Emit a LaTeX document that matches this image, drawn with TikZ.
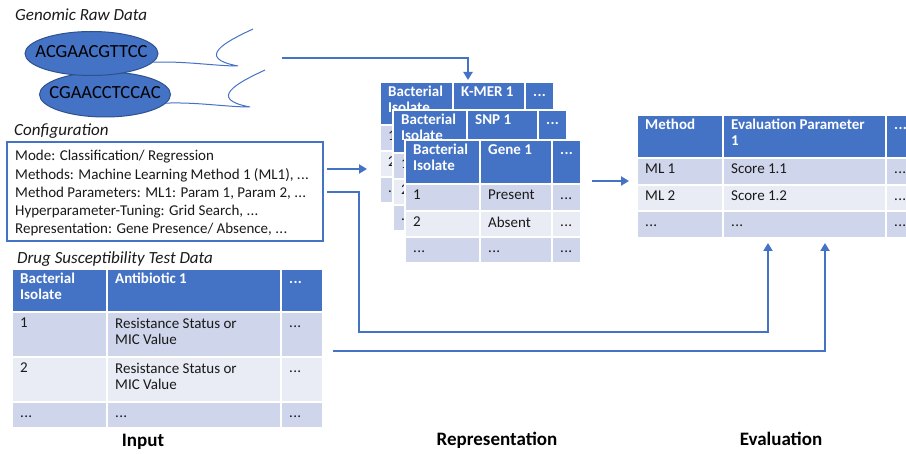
\documentclass[tikz,border=0pt]{standalone}
\usepackage{fontspec}
\setmainfont{Carlito}
\usetikzlibrary{arrows.meta,shapes.geometric}
\definecolor{hdr}{HTML}{4472C4}
\definecolor{rowa}{HTML}{CFD5EA}
\definecolor{rowb}{HTML}{E9EBF5}
\definecolor{edgeblue}{HTML}{2F528F}
\definecolor{txt}{HTML}{1A1A1A}
\newcommand\dd{.\kern0.3pt.\kern0.3pt.}
\newcommand\thin[1]{\makebox[0pt][c]{\smash{#1}}}
\newcommand\hcell[6]{%
  \path[fill=hdr,draw=white,line width=2pt] (#2,#3) rectangle (#4,#5);
  \node[htxt] (#1) at (#2+8,#3+4) {\vphantom{Bl}#6};}
\newcommand\rcell[7]{%
  \path[fill=#6,draw=white,line width=2pt] (#2,#3) rectangle (#4,#5);
  \node[rtxt] (#1) at (#2+8,#3+6) {\vphantom{R}#7};}
\tikzset{
  htxt/.style={anchor=north west,inner sep=0pt,align=left,text=white,
    font=\fontsize{15}{15.5}\selectfont\bfseries},
  rtxt/.style={anchor=north west,inner sep=0pt,align=left,text=txt,
    font=\fontsize{15}{15.5}\selectfont},
  ttl/.style={anchor=base west,inner sep=0pt,text=txt,font=\fontsize{17}{19}\selectfont\itshape},
  cfg/.style={anchor=base west,inner sep=0pt,text=txt,font=\fontsize{15}{18}\selectfont},
  stage/.style={anchor=base,inner sep=0pt,text=black,font=\fontsize{19}{22}\selectfont\bfseries},
  seq/.style={ellipse,draw=edgeblue,line width=1pt,fill=hdr,minimum width=133pt,
    minimum height=44pt,inner sep=0pt,text=black,font=\fontsize{18.5}{22}\selectfont},
  flow/.style={draw=hdr,line width=2.6pt,-{Triangle[length=8pt,width=9pt]}},
  wave/.style={draw=hdr,line width=1pt},
}
\begin{document}
\begin{tikzpicture}[x=1pt,y=-1pt]
\useasboundingbox (0,0) rectangle (906,454);
\fill[white] (0,0) rectangle (906,454);

% ---------- Genomic raw data ----------
\node[ttl] (tgen) at (15,21) {Genomic Raw Data};
\node[seq,minimum width=131pt,minimum height=45pt] (e2) at (105,94.5) {\thin{\raisebox{-0.5ex}{CGAACCTCCAC}}};
\node[seq] (e1) at (91.5,53.5) {\thin{\raisebox{-0.5ex}{ACGAACGTTCC}}};
\coordinate (w1tip) at (238,66);
\coordinate (w1end) at (253,29);
\coordinate (w2tip) at (250,107);
\coordinate (w2end) at (265,70);
\draw[wave] (e1.-8) .. controls (185,61) and (215,66) .. (w1tip)
  .. controls (195,58) and (225,42) .. (w1end);
\draw[wave] (e2.-8) .. controls (197,102) and (227,107) .. (w2tip)
  .. controls (207,99) and (237,83) .. (w2end);

% ---------- Configuration ----------
\node[ttl] (tcfg) at (14,136) {Configuration};
\draw[hdr,line width=1.3pt] (7,142) rectangle (323,241);
\node[cfg] (c1) at (15,161) {Mode: Classification/ Regression};
\node[cfg] (c2) at (15,179.25) {Methods: Machine Learning Method 1 (ML1), \dd};
\node[cfg] (c3) at (15,197.5) {Method Parameters: ML1: Param 1, Param 2, \dd};
\node[cfg] (c4) at (15,215.75) {Hyperparameter-Tuning: Grid Search, \dd};
\node[cfg] (c5) at (15,234) {Representation: Gene Presence/ Absence, \dd};

% ---------- Drug susceptibility test data ----------
\node[ttl] (tdst) at (17,264) {Drug Susceptibility Test Data};
\hcell{d00}{12}{269}{107}{312}{Bacterial\\Isolate}
\hcell{d01}{107}{269}{281}{312}{Antibiotic 1}
\hcell{d02}{281}{269}{323}{312}{\dd}
\rcell{d10}{12}{312}{107}{357}{rowa}{1}
\rcell{d11}{107}{312}{281}{357}{rowa}{Resistance Status or\\MIC Value}
\rcell{d12}{281}{312}{323}{357}{rowa}{\dd}
\rcell{d20}{12}{357}{107}{402}{rowb}{2}
\rcell{d21}{107}{357}{281}{402}{rowb}{Resistance Status or\\MIC Value}
\rcell{d22}{281}{357}{323}{402}{rowb}{\dd}
\rcell{d30}{12}{402}{107}{428}{rowa}{\dd}
\rcell{d31}{107}{402}{281}{428}{rowa}{\dd}
\rcell{d32}{281}{402}{323}{428}{rowa}{\dd}

% ---------- Representation: stacked tables ----------
% K-MER table
\hcell{k00}{380}{82}{453}{125}{Bacterial\\Isolate}
\hcell{k01}{453}{82}{525}{125}{K-MER 1}
\hcell{k02}{525}{82}{554}{125}{\dd}
\rcell{k10}{380}{125}{453}{151}{rowa}{1}
\rcell{k11}{453}{125}{525}{151}{rowa}{}
\rcell{k12}{525}{125}{554}{151}{rowa}{}
\rcell{k20}{380}{151}{453}{177}{rowb}{2}
\rcell{k21}{453}{151}{525}{177}{rowb}{}
\rcell{k22}{525}{151}{554}{177}{rowb}{}
\rcell{k30}{380}{177}{453}{203}{rowa}{\dd}
\rcell{k31}{453}{177}{525}{203}{rowa}{}
\rcell{k32}{525}{177}{554}{203}{rowa}{}
% SNP table
\hcell{s00}{393}{110}{467}{153}{Bacterial\\Isolate}
\hcell{s01}{467}{110}{538}{153}{SNP 1}
\hcell{s02}{538}{110}{567}{153}{\dd}
\rcell{s10}{393}{153}{467}{179}{rowa}{1}
\rcell{s11}{467}{153}{538}{179}{rowa}{}
\rcell{s12}{538}{153}{567}{179}{rowa}{}
\rcell{s20}{393}{179}{467}{205}{rowb}{2}
\rcell{s21}{467}{179}{538}{205}{rowb}{}
\rcell{s22}{538}{179}{567}{205}{rowb}{}
\rcell{s30}{393}{205}{467}{231}{rowa}{\dd}
\rcell{s31}{467}{205}{538}{231}{rowa}{}
\rcell{s32}{538}{205}{567}{231}{rowa}{}
% Gene table
\hcell{g00}{405}{140}{480}{184}{Bacterial\\Isolate}
\hcell{g01}{480}{140}{552}{184}{Gene 1}
\hcell{g02}{552}{140}{581}{184}{\dd}
\rcell{g10}{405}{184}{480}{211}{rowa}{1}
\rcell{g11}{480}{184}{552}{211}{rowa}{Present}
\rcell{g12}{552}{184}{581}{211}{rowa}{\dd}
\rcell{g20}{405}{211}{480}{237}{rowb}{2}
\rcell{g21}{480}{211}{552}{237}{rowb}{Absent}
\rcell{g22}{552}{211}{581}{237}{rowb}{\dd}
\rcell{g30}{405}{237}{480}{263}{rowa}{\dd}
\rcell{g31}{480}{237}{552}{263}{rowa}{\dd}
\rcell{g32}{552}{237}{581}{263}{rowa}{\dd}

% ---------- Evaluation table ----------
\hcell{v00}{637}{115}{723}{158}{Method}
\hcell{v01}{723}{115}{886}{158}{Evaluation Parameter\\1}
\hcell{v02}{886}{115}{912}{158}{\dd}
\rcell{v10}{637}{158}{723}{185}{rowa}{ML 1}
\rcell{v11}{723}{158}{886}{185}{rowa}{Score 1.1}
\rcell{v12}{886}{158}{912}{185}{rowa}{\dd}
\rcell{v20}{637}{185}{723}{211}{rowb}{ML 2}
\rcell{v21}{723}{185}{886}{211}{rowb}{Score 1.2}
\rcell{v22}{886}{185}{912}{211}{rowb}{\dd}
\rcell{v30}{637}{211}{723}{238}{rowa}{\dd}
\rcell{v31}{723}{211}{886}{238}{rowa}{\dd}
\rcell{v32}{886}{211}{912}{238}{rowa}{\dd}

% ---------- connectors ----------
\coordinate (genout) at (282,58);
\coordinate (kmerin) at (468,80);
\coordinate (cfgout1) at (327,169);
\coordinate (reprin) at (367,169);
\coordinate (cfgout2) at (327,192);
\coordinate (dstout) at (333,351);
\coordinate (reprout) at (592,181);
\coordinate (evalin) at (629,181);
\coordinate (evalin1) at (768,243);
\coordinate (evalin2) at (825,243);
\draw[flow] (genout) -| (kmerin);
\draw[flow] (cfgout1) -- (reprin);
\draw[flow] (cfgout2) -- (359,192) -- (359,332) -| (evalin1);
\draw[flow] (dstout) -| (evalin2);
\draw[flow] (reprout) -- (evalin);

% ---------- stage labels ----------
\node[stage] (lin) at (143,447) {Input};
\node[stage] (lrep) at (497,446) {Representation};
\node[stage] (lev) at (781,446) {Evaluation};
\end{tikzpicture}
\end{document}
